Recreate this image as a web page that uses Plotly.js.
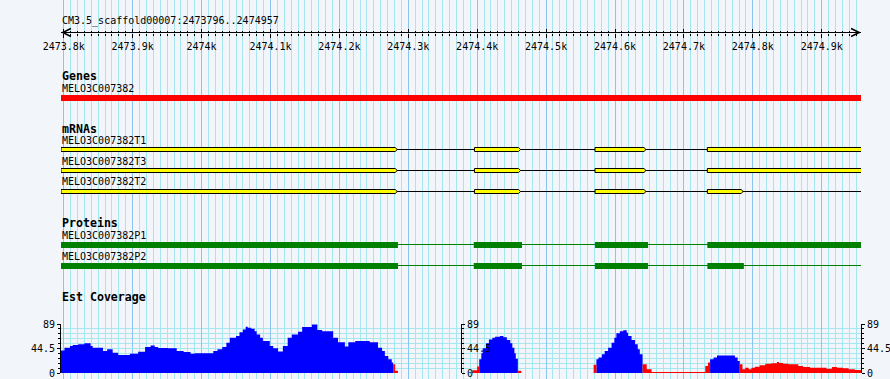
<!DOCTYPE html>
<html><head><meta charset="utf-8">
<script src="https://cdn.plot.ly/plotly-3.0.1.min.js"></script>
<style>html,body{margin:0;padding:0;background:#f2f5fa;}#chart{width:890px;height:379px;}</style>
</head><body><div id="chart"></div>
<script>
// ---------------- data ----------------
const regionName = 'CM3.5_scaffold00007';
const regionStart = 2473796;
const regionEnd = 2474957;

const rulerTickVals = [2473800, 2473900, 2474000, 2474100, 2474200, 2474300, 2474400, 2474500, 2474600, 2474700, 2474800, 2474900];
const rulerTickText = ['2473.8k', '2473.9k', '2474k', '2474.1k', '2474.2k', '2474.3k', '2474.4k', '2474.5k', '2474.6k', '2474.7k', '2474.8k', '2474.9k'];

const geneName = 'MELO3C007382';
const geneStart = 2473796;
const geneEnd = 2474957;

const mrnaNames = ['MELO3C007382T1', 'MELO3C007382T3', 'MELO3C007382T2'];
const mrnaStart = [2473796, 2473796, 2473796];
const mrnaEnd = [2474957, 2474957, 2474957];
const mrnaExonStarts = [
  [2473796, 2474396, 2474571, 2474734],
  [2473796, 2474396, 2474571, 2474734],
  [2473796, 2474396, 2474571, 2474734]
];
const mrnaExonEnds = [
  [2474281, 2474460, 2474642, 2474957],
  [2474281, 2474460, 2474642, 2474957],
  [2474281, 2474460, 2474642, 2474783]
];

const proteinNames = ['MELO3C007382P1', 'MELO3C007382P2'];
const proteinStart = [2473796, 2473796];
const proteinEnd = [2474957, 2474957];
const proteinBlockStarts = [
  [2473796, 2474395, 2474571, 2474734],
  [2473796, 2474395, 2474571, 2474734]
];
const proteinBlockEnds = [
  [2474285, 2474465, 2474648, 2474957],
  [2474285, 2474465, 2474648, 2474787]
];

const coverageMax = 89;
// Est coverage, step positions (bp) and depth values (blue part)
const covBlueX = [
  2473796, 2473801, 2473809, 2473813, 2473821, 2473830, 2473839, 2473842, 2473857, 2473863,
  2473871, 2473879, 2473896, 2473908, 2473918, 2473926, 2473932, 2473937, 2473951, 2473964,
  2473974, 2473984, 2473990, 2474017, 2474023, 2474030, 2474036, 2474041, 2474050, 2474055,
  2474060, 2474064, 2474067, 2474072, 2474077, 2474080, 2474085, 2474089, 2474099, 2474104,
  2474111, 2474118, 2474125, 2474131, 2474140, 2474146, 2474160, 2474168, 2474175, 2474191,
  2474198, 2474208, 2474213, 2474223, 2474244, 2474256, 2474262, 2474266, 2474271, 2474276,
  2474278,
  2474403, 2474406, 2474408, 2474413, 2474417, 2474422, 2474426, 2474433, 2474438, 2474443,
  2474448, 2474451, 2474454, 2474456, 2474459,
  2474573, 2474576, 2474581, 2474585, 2474590, 2474595, 2474599, 2474602, 2474607, 2474612,
  2474617, 2474619, 2474624, 2474629, 2474633, 2474636, 2474640,
  2474738, 2474743, 2474748, 2474774, 2474778, 2474781
];
const covBlueY = [
  41, 46, 49, 51, 52, 54, 49, 46, 40, 43,
  37, 32.7, 35, 38.7, 47, 50, 47, 45.4, 44.8, 40,
  38, 35, 35.7, 40, 43, 47, 55, 64, 67, 74,
  79, 84, 82, 80.5, 76, 70, 64, 58, 49, 45,
  39, 49, 64, 70, 75, 83.5, 88, 78, 76, 64,
  56, 48, 56, 58, 56, 46, 40, 31, 25, 19,
  0,
  25, 36, 45, 54, 61, 64, 66, 67, 65, 60,
  54, 46, 36, 26, 0,
  25, 28, 34, 40, 46, 55, 64, 72, 76, 77.5,
  73, 67, 60, 52, 43, 34, 0,
  25, 28, 32, 28, 22, 0
];
// red part
const covRedX = [
  2474278, 2474281, 2474285,
  2474393, 2474400, 2474403,
  2474459, 2474464,
  2474569, 2474573,
  2474640, 2474646, 2474653, 2474731, 2474735, 2474738,
  2474781, 2474785, 2474789, 2474794, 2474798, 2474803, 2474810, 2474818, 2474827, 2474835,
  2474838, 2474844, 2474852, 2474866, 2474873, 2474883, 2474907, 2474915, 2474922, 2474931,
  2474939, 2474948, 2474957
];
const covRedY = [
  16, 4, 0,
  5, 12, 0,
  4, 0,
  15, 0,
  16, 6.7, 2, 12.7, 19, 0,
  16, 6.7, 9.7, 6.7, 9.7, 11.5, 14, 17, 17.5, 20,
  18, 17, 15.7, 12.7, 11, 9.7, 7.9, 11, 9.7, 8.5,
  6.7, 5.4, 0
];

// ---------------- style / layout ----------------
const W = 890, H = 379;
const col = {
  bg: '#f2f5fa', gridMinor: '#a6e6ee', gridMajor: '#8cc4ee',
  gene: '#ff0000', mrna: '#ffff00', outline: '#000000', protein: '#008000',
  covBlue: '#0000ff', covRed: '#ff0000'
};
const mono = 'DejaVu Sans Mono, monospace';
const rows = {
  title: 21, ruler: 32.5,
  genesHead: 76, geneLabel: 88.5, geneBar: [95, 101],
  mrnaHead: 128.5, mrnaLabel: [140.5, 161, 181.5],
  mrnaBar: [[147.5, 151.5], [168.5, 172.5], [189.5, 193.5]], mrnaLine: [149.5, 170.5, 191.5],
  protHead: 223, protLabel: [235, 256], protBar: [[242, 248], [263, 269]], protLine: [244.5, 265.5],
  covHead: 297, covTop: 324, covBottom: 373
};
const strandTipBp = 3;

const traces = [];

// helper: blocks -> closed polygons with gaps
function blockPolys(starts, ends, top, bot, tip) {
  const xs = [], ys = [];
  starts.forEach((s, j) => {
    const e = ends[j];
    if (tip) {
      xs.push(s, e, e + tip, e, s, s, null);
      ys.push(top, top, (top + bot) / 2, bot, bot, top, null);
    } else {
      xs.push(s, e, e, s, s, null);
      ys.push(top, top, bot, bot, top, null);
    }
  });
  return { xs, ys };
}

// mRNA backbone lines
(function () {
  const xs = [], ys = [];
  mrnaNames.forEach((n, i) => { xs.push(mrnaStart[i], mrnaEnd[i], null); ys.push(rows.mrnaLine[i], rows.mrnaLine[i], null); });
  traces.push({ type: 'scatter', mode: 'lines', x: xs, y: ys, xaxis: 'x', yaxis: 'y',
    line: { color: col.outline, width: 1 }, hoverinfo: 'skip' });
})();
// protein backbone lines
(function () {
  const xs = [], ys = [];
  proteinNames.forEach((n, i) => { xs.push(proteinStart[i], proteinEnd[i], null); ys.push(rows.protLine[i], rows.protLine[i], null); });
  traces.push({ type: 'scatter', mode: 'lines', x: xs, y: ys, xaxis: 'x', yaxis: 'y',
    line: { color: col.protein, width: 1 }, hoverinfo: 'skip' });
})();
// gene bar
(function () {
  const p = blockPolys([geneStart], [geneEnd], rows.geneBar[0], rows.geneBar[1], 0);
  traces.push({ type: 'scatter', mode: 'lines', x: p.xs, y: p.ys, xaxis: 'x', yaxis: 'y', fill: 'toself',
    fillcolor: col.gene, line: { width: 0, color: col.gene }, hoverinfo: 'skip' });
})();
// mRNA exons
mrnaNames.forEach((n, i) => {
  const p = blockPolys(mrnaExonStarts[i], mrnaExonEnds[i], rows.mrnaBar[i][0], rows.mrnaBar[i][1], strandTipBp);
  traces.push({ type: 'scatter', mode: 'lines', x: p.xs, y: p.ys, xaxis: 'x', yaxis: 'y', fill: 'toself',
    fillcolor: col.mrna, line: { width: 1, color: col.outline }, hoverinfo: 'skip' });
});
// protein blocks
proteinNames.forEach((n, i) => {
  const p = blockPolys(proteinBlockStarts[i], proteinBlockEnds[i], rows.protBar[i][0], rows.protBar[i][1], 0);
  traces.push({ type: 'scatter', mode: 'lines', x: p.xs, y: p.ys, xaxis: 'x', yaxis: 'y', fill: 'toself',
    fillcolor: col.protein, line: { width: 0, color: col.protein }, hoverinfo: 'skip' });
});
// coverage
traces.push({ type: 'scatter', mode: 'lines', x: covBlueX, y: covBlueY, xaxis: 'x', yaxis: 'y2',
  line: { shape: 'hv', width: 0, color: col.covBlue }, fill: 'tozeroy', fillcolor: col.covBlue, hoverinfo: 'skip' });
traces.push({ type: 'scatter', mode: 'lines', x: covRedX, y: covRedY, xaxis: 'x', yaxis: 'y3',
  line: { shape: 'hv', width: 0, color: col.covRed }, fill: 'tozeroy', fillcolor: col.covRed, hoverinfo: 'skip' });
// right-hand coverage scale (invisible anchor trace so the axis is drawn)
traces.push({ type: 'scatter', mode: 'markers', x: [regionEnd], y: [coverageMax], xaxis: 'x', yaxis: 'y4',
  marker: { opacity: 0 }, hoverinfo: 'skip' });
// ruler line (bottom-tick axis) and its top-tick twin
traces.push({ type: 'scatter', mode: 'lines', x: [regionStart, regionEnd], y: [rows.ruler, rows.ruler], xaxis: 'x2', yaxis: 'y',
  line: { color: '#000', width: 1 }, hoverinfo: 'skip' });
traces.push({ type: 'scatter', mode: 'markers', x: [regionStart], y: [rows.ruler], xaxis: 'x3', yaxis: 'y',
  marker: { opacity: 0 }, hoverinfo: 'skip' });

const plotW = W - 61 - 29;
const covDomain = [1 - rows.covBottom / H, 1 - rows.covTop / H];
const covAxisBase = {
  range: [0, coverageMax], domain: covDomain, tickmode: 'linear', tick0: 0, dtick: coverageMax / 2,
  showline: true, linecolor: '#000', linewidth: 1, ticks: 'outside', ticklen: 3, tickcolor: '#000',
  tickfont: { family: mono, size: 10, color: '#000' }, zeroline: false, fixedrange: true,
  minor: { tick0: 0, dtick: coverageMax / 10, ticks: 'outside', ticklen: 2, tickcolor: '#000', showgrid: false }
};
const rulerBase = {
  range: [regionStart, regionEnd], anchor: 'free', overlaying: 'x', position: 1 - rows.ruler / H,
  showgrid: false, zeroline: false, showline: false,
  tickmode: 'array', tickvals: rulerTickVals, ticktext: rulerTickText, ticks: 'outside', ticklen: 4, tickcolor: '#000',
  minor: { tickmode: 'linear', tick0: 0, dtick: 10, ticks: 'outside', ticklen: 2, tickcolor: '#000', showgrid: false },
  tickfont: { family: mono, size: 10, color: '#000' }, fixedrange: true
};

const annotations = [];
function label(text, y, bold) {
  annotations.push({ xref: 'x', yref: 'y', x: regionStart, y: y, xanchor: 'left', yanchor: 'middle', xshift: -1,
    text: text, showarrow: false, font: { family: mono, size: bold ? 11.6 : 10, color: '#000', weight: bold ? 'bold' : 'normal' } });
}
label(regionName + ':' + regionStart + '..' + regionEnd, rows.title, false);
label('Genes', rows.genesHead, true);
label(geneName, rows.geneLabel, false);
label('mRNAs', rows.mrnaHead, true);
mrnaNames.forEach((n, i) => label(n, rows.mrnaLabel[i], false));
label('Proteins', rows.protHead, true);
proteinNames.forEach((n, i) => label(n, rows.protLabel[i], false));
label('Est Coverage', rows.covHead, true);
// ruler arrow heads
annotations.push({ xref: 'x', yref: 'y', x: regionEnd, y: rows.ruler, ax: -8, ay: 0, text: '', showarrow: true,
  arrowhead: 5, arrowsize: 1.6, arrowwidth: 1, arrowcolor: '#000', standoff: 0 });
annotations.push({ xref: 'x', yref: 'y', x: regionStart, y: rows.ruler, ax: 8, ay: 0, text: '', showarrow: true,
  arrowhead: 5, arrowsize: 1.6, arrowwidth: 1, arrowcolor: '#000', standoff: 0 });

const layout = {
  width: W, height: H, margin: { l: 61, r: 29, t: 0, b: 0, pad: 0 },
  paper_bgcolor: col.bg, plot_bgcolor: 'rgba(0,0,0,0)', showlegend: false,
  xaxis: {
    range: [regionStart, regionEnd], domain: [0, 1], anchor: 'y', showticklabels: false, ticks: '',
    tickmode: 'linear', tick0: 0, dtick: 100, showgrid: true, gridcolor: col.gridMajor, gridwidth: 1,
    minor: { tickmode: 'linear', tick0: 0, dtick: 10, showgrid: true, gridcolor: col.gridMinor, gridwidth: 1 },
    zeroline: false, showline: false, fixedrange: true
  },
  xaxis2: Object.assign({}, rulerBase, { side: 'bottom', showticklabels: true }),
  xaxis3: Object.assign({}, rulerBase, { side: 'top', showticklabels: false }),
  yaxis: { range: [H, 0], domain: [0, 1], visible: false, fixedrange: true },
  yaxis2: Object.assign({}, covAxisBase, { anchor: 'x', side: 'left', showgrid: true, gridcolor: col.gridMinor,
    minor: Object.assign({}, covAxisBase.minor, { showgrid: true, gridcolor: col.gridMinor }) }),
  yaxis3: Object.assign({}, covAxisBase, { overlaying: 'y2', anchor: 'free', position: (461 - 61) / plotW, side: 'right', showgrid: false }),
  yaxis4: Object.assign({}, covAxisBase, { overlaying: 'y2', anchor: 'free', position: 1, side: 'right', showgrid: false }),
  annotations: annotations
};

Plotly.newPlot('chart', traces, layout, { displayModeBar: false, staticPlot: true });
</script>
</body></html>
